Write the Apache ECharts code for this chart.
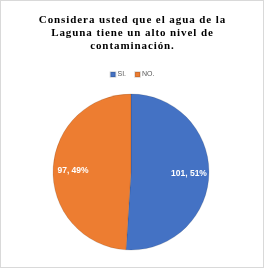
<!DOCTYPE html>
<html>
<head>
<meta charset="utf-8">
<script src="https://cdn.jsdelivr.net/npm/echarts@6/dist/echarts.min.js"></script>
<style>
  html, body { margin: 0; padding: 0; background: #fff; }
  #chart { width: 262px; height: 266px; border: 1px solid #d9d9d9; }
</style>
</head>
<body>
<div id="chart"></div>
<script>
// datos de la encuesta
var categorias = ['SI.', 'NO.'];
var valores = [101, 97];
var porcentajes = ['51%', '49%'];
var colores = ['#4472C4', '#ED7D31'];

var chart = echarts.init(document.getElementById('chart'));

var datos = categorias.map(function (c, i) {
  return { name: c, value: valores[i], pct: porcentajes[i], itemStyle: { color: colores[i] } };
});

// espaciado entre letras como en el original
function espaciar(s) {
  return s.split('').join('\u200A');
}
var titulo = [
  'Considera usted que el agua de la',
  'Laguna tiene un alto nivel de',
  'contaminación.'
].map(espaciar).join('\n');

chart.setOption({
  animation: false,
  title: {
    text: titulo,
    left: 'center',
    top: 8,
    textStyle: {
      fontFamily: 'Liberation Serif',
      fontWeight: 'bold',
      fontSize: 11,
      lineHeight: 13,
      color: '#000'
    }
  },
  legend: {
    top: 65,
    left: 'center',
    itemWidth: 5,
    itemHeight: 5,
    itemGap: 8,
    icon: 'rect',
    textStyle: { fontSize: 7, color: '#595959', fontFamily: 'Liberation Sans', padding: [0, 0, 0, -3] },
    data: categorias
  },
  series: [{
    type: 'pie',
    center: [130, 171],
    radius: 78,
    startAngle: 90,
    clockwise: true,
    itemStyle: { borderColor: 'rgba(0,0,0,0.12)', borderWidth: 1 },
    label: { show: false },
    labelLine: { show: false },
    data: datos
  }, {
    // capa transparente solo para las etiquetas
    type: 'pie',
    center: [130, 171],
    radius: [33, 77],
    startAngle: 90,
    clockwise: true,
    silent: true,
    itemStyle: { color: 'transparent' },
    label: {
      position: 'inside',
      color: '#fff',
      fontWeight: 'bold',
      fontSize: 8.5,
      fontFamily: 'Liberation Sans',
      formatter: function (p) { return p.value + ', ' + p.data.pct; }
    },
    labelLine: { show: false },
    data: categorias.map(function (c, i) {
      return { name: c, value: valores[i], pct: porcentajes[i], itemStyle: { color: 'transparent' } };
    })
  }]
});
</script>
</body>
</html>
